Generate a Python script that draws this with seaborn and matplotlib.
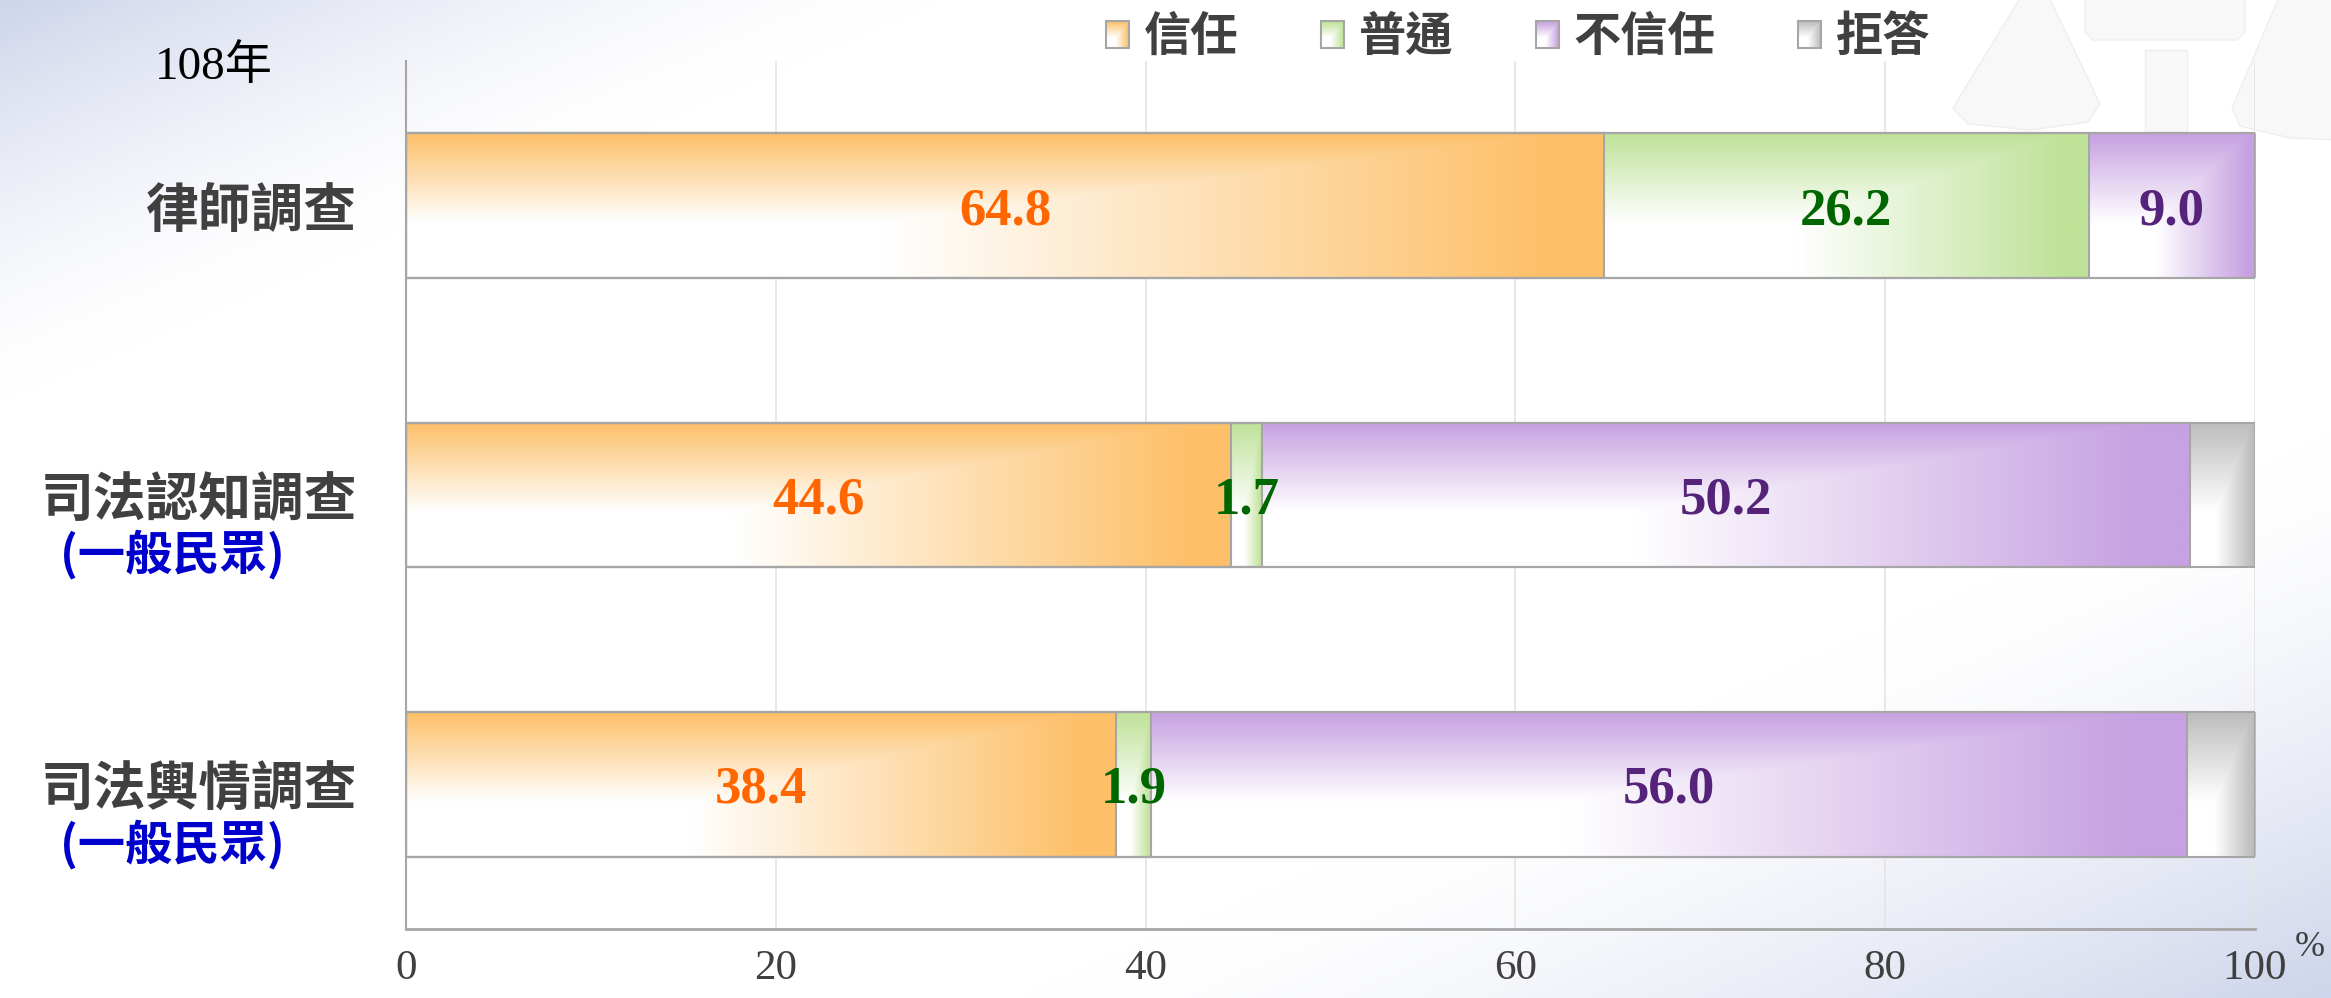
import numpy as np
import matplotlib
matplotlib.use("Agg")
import matplotlib.pyplot as plt
from matplotlib.colors import to_rgb
from matplotlib.patches import Patch, Polygon
import seaborn as sns

# data
surveys = ['律師調查', '司法認知調查', '司法輿情調查']
subtitles = ['', '(一般民眾)', '(一般民眾)']
series_names = ['信任', '普通', '不信任', '拒答']
trust = [64.8, 44.6, 38.4]
neutral = [26.2, 1.7, 1.9]
distrust = [9.0, 50.2, 56.0]
refuse = [0.0, 3.5, 3.7]
year_label = '108年'
x_ticks = [0, 20, 40, 60, 80, 100]

series_values = [trust, neutral, distrust, refuse]
series_colors = ['#FDC069', '#BFE299', '#C7A1E1', '#BDBDBD']
label_colors = ['#FF6600', '#006600', '#55237A', None]

W, H, DPI = 2331, 998, 100


def gradient_rgba(color, rows=60, cols=240):
    # white bottom-left, colour along the top and the right side
    c = np.array(to_rgb(color))
    yf = np.linspace(0, 1, rows)[:, None]
    xf = np.linspace(0, 1, cols)[None, :]
    top = np.clip(1 - yf / 0.62, 0, 1)
    right = np.clip((xf - 0.4) / 0.55, 0, 1)
    s = np.maximum(top, right)[..., None]
    return 1 - s * (1 - c)


sns.set_theme(style='white')
plt.rcParams['font.family'] = ['Liberation Serif', 'Noto Sans CJK TC', 'DejaVu Sans']

fig = plt.figure(figsize=(W / DPI, H / DPI), dpi=DPI)

# background gradient + faint watermark
bg = fig.add_axes([0, 0, 1, 1], zorder=-10)
gy, gx = np.mgrid[0:1:250j, 0:1:580j]
t = (gx + gy) / 2
a = np.clip((0.2 - t) / 0.2, 0, 1) ** 1.5
b = np.clip((t - 0.72) / 0.28, 0, 1) ** 1.5
s = np.maximum(a, b)[..., None]
blue = np.array(to_rgb('#CED5EB'))
bg.imshow(1 - s * (1 - blue), extent=(0, W, H, 0), aspect='auto', interpolation='bilinear')
for pts in [
    [(2022, -5), (2048, -5), (2100, 104), (2088, 122), (2030, 130), (1968, 124), (1953, 108)],
    [(2085, -5), (2245, -5), (2245, 32), (2237, 40), (2093, 40), (2085, 32)],
    [(2145, 50), (2187, 50), (2187, 132), (2145, 132)],
    [(2280, -5), (2340, -5), (2340, 140), (2290, 138), (2240, 126), (2232, 108)],
]:
    bg.add_patch(Polygon(pts, closed=True, facecolor='#F8F8F8', edgecolor='#EEEEEE', lw=1))
bg.set_xlim(0, W)
bg.set_ylim(H, 0)
bg.axis('off')

# main chart
ax = fig.add_axes([406 / W, 1 - 929 / H, (2255 - 406) / W, (929 - 61) / H])
ax.set_facecolor('none')

cum = np.cumsum(series_values, axis=0)
series_patches = {}
for k in reversed(range(len(series_values))):
    n0 = len(ax.patches)
    sns.barplot(x=list(cum[k]), y=surveys, orient='h', width=0.5,
                color=series_colors[k], errorbar=None, ax=ax)
    series_patches[k] = ax.patches[n0:]

for k in range(len(series_values)):
    for i, p in enumerate(series_patches[k]):
        x1 = p.get_width()
        x0 = series_patches[k - 1][i].get_width() if k > 0 else 0
        p.set_facecolor('none')
        p.set_edgecolor('#A6A6A6')
        p.set_linewidth(1.5)
        p.set_zorder(3)
        if x1 - x0 <= 0.01:
            continue
        y0, h = p.get_y(), p.get_height()
        ax.imshow(gradient_rgba(series_colors[k]), extent=(x0, x1, y0 + h, y0),
                  aspect='auto', interpolation='bilinear', zorder=2)

# value labels
for k in range(3):
    for i in range(len(surveys)):
        v = series_values[k][i]
        ax.text(cum[k][i] - v / 2, i, f'{v:.1f}', ha='center', va='center_baseline',
                color=label_colors[k], fontsize=38, fontweight='bold',
                family='Liberation Serif', zorder=5)

ax.set_xlim(0, 100)
ax.set_ylim(len(surveys) - 0.5, -0.5)
ax.set_xlabel('')
ax.set_ylabel('')

ax.set_xticks(x_ticks)
ax.set_xticklabels([str(v) for v in x_ticks], family='Liberation Serif', fontsize=31, color='#404040')
ax.tick_params(axis='x', length=0, pad=15)
ax.set_yticks(range(len(surveys)))
ax.set_yticklabels(surveys, family='Noto Sans CJK TC', fontsize=38, fontweight='bold', color='#404040')
ax.tick_params(axis='y', length=0, pad=35)

for i, sub in enumerate(subtitles):
    if sub:
        ax.annotate(sub, xy=(0, i), xycoords=ax.get_yaxis_transform(),
                    xytext=(-(406 - 172) * 0.72, -60 * 0.72), textcoords='offset points',
                    ha='center', va='center', fontsize=34, fontweight='bold',
                    color='#0000CC', family='Noto Sans CJK TC')

ax.grid(axis='x', color='#E4E4E4', linewidth=1.2)
ax.grid(axis='y', visible=False)
ax.set_axisbelow(True)
for side in ['top', 'right']:
    ax.spines[side].set_visible(False)
ax.spines['left'].set_color('#A6A6A6')
ax.spines['left'].set_linewidth(1.5)
ax.spines['bottom'].set_color('#A6A6A6')
ax.spines['bottom'].set_linewidth(2)

fig.text(214 / W, 1 - 67 / H, year_label, ha='center', va='center', fontsize=34,
         color='black', family=['Liberation Serif', 'Noto Sans CJK TC'])
fig.text(2310 / W, 1 - 947 / H, '%', ha='center', va='center', fontsize=26,
         color='#404040', family='Liberation Serif')

# legend with gradient swatches
handles = [Patch(facecolor='none', edgecolor='#A6A6A6', linewidth=1.5, label=n) for n in series_names]
leg = fig.legend(handles=handles, loc='center', bbox_to_anchor=(1518 / W, 1 - 37 / H), ncol=4,
                 frameon=False, prop={'family': 'Noto Sans CJK TC', 'weight': 'bold', 'size': 34},
                 handlelength=0.5, handleheight=0.5, handletextpad=0.3, columnspacing=1.75,
                 labelcolor='#404040')
fig.canvas.draw()
inv = fig.transFigure.inverted()
for k, p in enumerate(leg.get_patches()):
    (fx0, fy0), (fx1, fy1) = inv.transform(p.get_window_extent().get_points())
    lax = fig.add_axes([fx0, fy0, fx1 - fx0, fy1 - fy0], zorder=1)
    lax.imshow(gradient_rgba(series_colors[k], 20, 20), extent=(0, 1, 0, 1),
               aspect='auto', interpolation='bilinear')
    lax.axis('off')

fig.savefig('out.png', dpi=DPI)
